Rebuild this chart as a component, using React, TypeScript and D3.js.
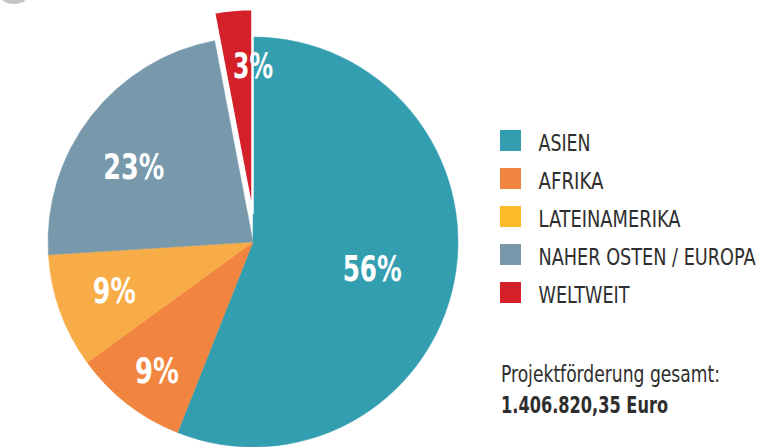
import React from "react";
import * as d3 from "d3";

const categories = ["ASIEN", "AFRIKA", "LATEINAMERIKA", "NAHER OSTEN / EUROPA", "WELTWEIT"];
const shares = [56, 9, 9, 23, 3];
const sliceColors = ["#349eb1", "#f1843e", "#f8ac47", "#7799ab", "#d42129"];
const legendColors = ["#349eb1", "#f1843e", "#fdbb2a", "#7799ab", "#d42129"];
const totalLabel = "Projektförderung gesamt:";
const totalValue = "1.406.820,35 Euro";

const W = 779;
const H = 447;
const cx = 253;
const cy = 242;
const R = 205;
const explodeX = [0, 0, 0, 0, -0.5];
const explodeY = [0, 0, 0, 0, -28];
const labelRadius = [122, 160, 147, 141, 149];
const labelAngleShift = [1.5, -0.9, 0.5, -5.5, 5.6];
const labelWidths = [59, 44, 43, 61, 40];
const legendWidths = [52, 65, 142, 217, 91];
const FONT = "'DejaVu Sans Condensed', 'DejaVu Sans', sans-serif";

export default function App() {
  const pie = d3.pie<number>().sort(null).value((d) => d)(shares);
  const arc = d3.arc<d3.PieArcDatum<number>>().innerRadius(0).outerRadius(R);

  const legendY = d3.scaleLinear().domain([0, 1]).range([130, 168]);

  return (
    <svg width={W} height={H} style={{ position: "absolute", left: 0, top: 0, background: "#fff" }}>
      <ellipse cx={14} cy={-2} rx={12} ry={6} fill="#c4c4c4" />
      <g transform={`translate(${cx},${cy})`}>
        {pie.map((p, i) => {
          const exploded = explodeX[i] !== 0 || explodeY[i] !== 0;
          return (
            <g key={i} transform={`translate(${explodeX[i]},${explodeY[i]})`}>
              <path
                d={arc(p) || ""}
                fill={sliceColors[i]}
                stroke={exploded ? "#fff" : sliceColors[i]}
                strokeWidth={exploded ? 2.5 : 0.5}
              />
            </g>
          );
        })}
        {pie.map((p, i) => {
          const mid = (p.startAngle + p.endAngle) / 2;
          const a = mid + (labelAngleShift[i] * Math.PI) / 180;
          const lr = labelRadius[i];
          const lx = explodeX[i] + Math.sin(a) * lr;
          const ly = explodeY[i] - Math.cos(a) * lr;
          return (
            <text
              key={"l" + i}
              x={lx - labelWidths[i] / 2}
              y={ly}
              dy="0.36em"
              textLength={labelWidths[i]}
              lengthAdjust="spacingAndGlyphs"
              fill="#fff"
              fontFamily={FONT}
              fontWeight="bold"
              fontSize={35}
            >
              {shares[i]}%
            </text>
          );
        })}
      </g>
      {categories.map((c, i) => (
        <g key={c} transform={`translate(500,${legendY(i)})`}>
          <rect x={0} y={0} width={21} height={21} fill={legendColors[i]} />
          <text
            x={38.5}
            y={21}
            textLength={legendWidths[i]}
            lengthAdjust="spacingAndGlyphs"
            fontFamily={FONT}
            fontSize={23}
            fill="#2e2e2e"
          >
            {c}
          </text>
        </g>
      ))}
      <text x={501} y={382} textLength={219} lengthAdjust="spacingAndGlyphs" fontFamily={FONT} fontSize={23} fill="#2e2e2e">
        {totalLabel}
      </text>
      <text x={501} y={413} textLength={167} lengthAdjust="spacingAndGlyphs" fontFamily={FONT} fontSize={23} fontWeight="bold" fill="#2e2e2e">
        {totalValue}
      </text>
    </svg>
  );
}
